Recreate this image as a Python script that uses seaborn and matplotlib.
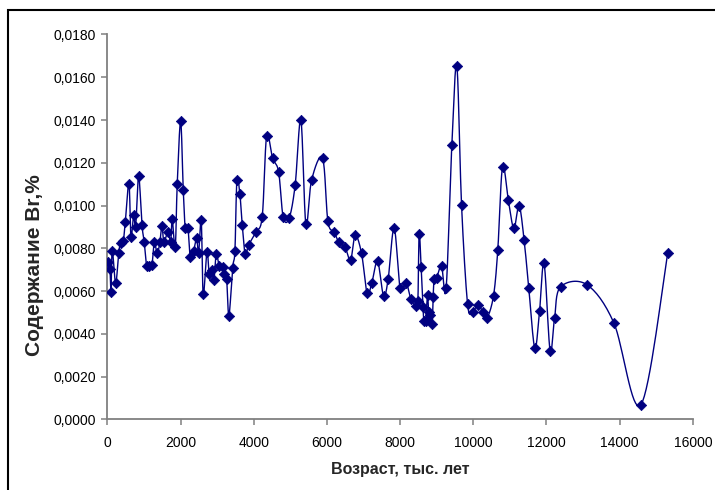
import numpy as np
import seaborn as sns
import matplotlib.pyplot as plt
from matplotlib.patches import Rectangle
from matplotlib.ticker import FuncFormatter, MultipleLocator

# возраст, тыс. лет
age = [22, 68, 96, 131, 224, 306, 361, 432, 486, 587, 642, 716, 770, 852, 943,
       1005, 1071, 1142, 1216, 1279, 1361, 1434, 1489, 1544, 1653, 1727, 1770,
       1852, 1907, 2000, 2071, 2126, 2199, 2262, 2355, 2437, 2492, 2563, 2617,
       2719, 2781, 2855, 2910, 2973, 3055, 3148, 3191, 3257, 3320, 3421, 3484,
       3538, 3620, 3683, 3765, 3858, 4057, 4230, 4350, 4514, 4678, 4803, 4967,
       5131, 5287, 5423, 5579, 5880, 6025, 6197, 6325, 6497, 6645, 6770, 6945,
       7098, 7227, 7383, 7546, 7672, 7836, 8000, 8164, 8292, 8429, 8484, 8519,
       8574, 8620, 8656, 8694, 8749, 8776, 8811, 8874, 8902, 8929, 8995, 9131,
       9257, 9413, 9549, 9678, 9842, 9978, 10123, 10260, 10377, 10552, 10669,
       10798, 10956, 11107, 11251, 11388, 11516, 11680, 11809, 11934, 12098,
       12221, 12383, 13101, 13839, 14577, 15314]

# содержание Br, %
br = [0.00737, 0.00702, 0.00594, 0.00789, 0.00636, 0.00778, 0.00823, 0.00835,
      0.00921, 0.01102, 0.00854, 0.00954, 0.00901, 0.01137, 0.00910, 0.00828,
      0.00717, 0.00717, 0.00722, 0.00828, 0.00776, 0.00831, 0.00904, 0.00831,
      0.00877, 0.00831, 0.00937, 0.00804, 0.01102, 0.01394, 0.01074, 0.00896,
      0.00896, 0.00760, 0.00789, 0.00847, 0.00778, 0.00932, 0.00585, 0.00784,
      0.00680, 0.00698, 0.00652, 0.00773, 0.00718, 0.00714, 0.00678, 0.00655,
      0.00485, 0.00708, 0.00789, 0.01119, 0.01052, 0.00910, 0.00772, 0.00815,
      0.00876, 0.00948, 0.01324, 0.01222, 0.01157, 0.00946, 0.00941, 0.01097,
      0.01400, 0.00913, 0.01119, 0.01222, 0.00926, 0.00876, 0.00828, 0.00804,
      0.00744, 0.00861, 0.00776, 0.00589, 0.00639, 0.00739, 0.00578, 0.00656,
      0.00895, 0.00613, 0.00639, 0.00563, 0.00528, 0.00552, 0.00867, 0.00711,
      0.00527, 0.00458, 0.00458, 0.00580, 0.00502, 0.00488, 0.00446, 0.00573,
      0.00656, 0.00661, 0.00717, 0.00613, 0.01283, 0.01654, 0.01002, 0.00541,
      0.00503, 0.00536, 0.00503, 0.00475, 0.00578, 0.00793, 0.01181, 0.01027,
      0.00893, 0.00999, 0.00839, 0.00613, 0.00333, 0.00505, 0.00729, 0.00321,
      0.00474, 0.00619, 0.00630, 0.00452, 0.00067, 0.00776]

x_ticks = list(range(0, 16001, 2000))
navy = "#000080"


def smooth(x, y, n=16):
    # сглаженная линия как в Excel (кривые Безье через точки)
    p = np.column_stack([x, y]).astype(float)
    pad = np.vstack([p[0], p, p[-1]])
    t = np.linspace(0, 1, n + 1)[1:, None]
    out = [p[:1]]
    for i in range(len(p) - 1):
        p0, p1, p2, p3 = pad[i], pad[i + 1], pad[i + 2], pad[i + 3]
        c1 = p1 + (p2 - p0) / 6
        c2 = p2 - (p3 - p1) / 6
        out.append((1 - t) ** 3 * p1 + 3 * (1 - t) ** 2 * t * c1
                   + 3 * (1 - t) * t ** 2 * c2 + t ** 3 * p2)
    return np.vstack(out)


sns.set_style("ticks")
plt.rcParams["font.family"] = ["Liberation Sans", "DejaVu Sans"]

fig = plt.figure(figsize=(7.15, 4.9), dpi=100)
ax = fig.add_axes([0.1503, 0.1443, 0.8187, 0.7853])

curve = smooth(age, br)
sns.lineplot(x=curve[:, 0], y=curve[:, 1], sort=False, estimator=None,
             color=navy, linewidth=1.0, ax=ax)
sns.scatterplot(x=age, y=br, marker="D", s=28, color=navy,
                edgecolor=navy, linewidth=0.5, ax=ax, zorder=3)

ax.set_xlim(0, 16000)
ax.set_ylim(0, 0.018)
ax.set_xticks(x_ticks)
ax.yaxis.set_major_locator(MultipleLocator(0.002))
ax.yaxis.set_major_formatter(FuncFormatter(lambda v, _: f"{v:.4f}".replace(".", ",")))

for side in ["top", "right"]:
    ax.spines[side].set_visible(False)
for side in ["left", "bottom"]:
    ax.spines[side].set_color("#808080")
    ax.spines[side].set_linewidth(1.3)
ax.tick_params(axis="both", colors="#808080", labelcolor="black",
               labelsize=10, length=4.5, width=1.1, direction="out")
ax.tick_params(axis="x", pad=7.5)
ax.tick_params(axis="y", pad=3.5)

ax.set_xlabel("Возраст, тыс. лет", fontsize=11.5, fontweight="bold")
ax.set_ylabel("Содержание Br,%", fontsize=15, fontweight="bold")
ax.xaxis.set_label_coords(0.5, -0.11)
ax.yaxis.set_label_coords(-0.108, 0.40)

fig.patches.append(Rectangle((8 / 715, -0.1), 2, 1 - 10 / 490 + 0.1,
                             transform=fig.transFigure, fill=False,
                             edgecolor="black", linewidth=1.5))

fig.savefig("out.png", dpi=100)
